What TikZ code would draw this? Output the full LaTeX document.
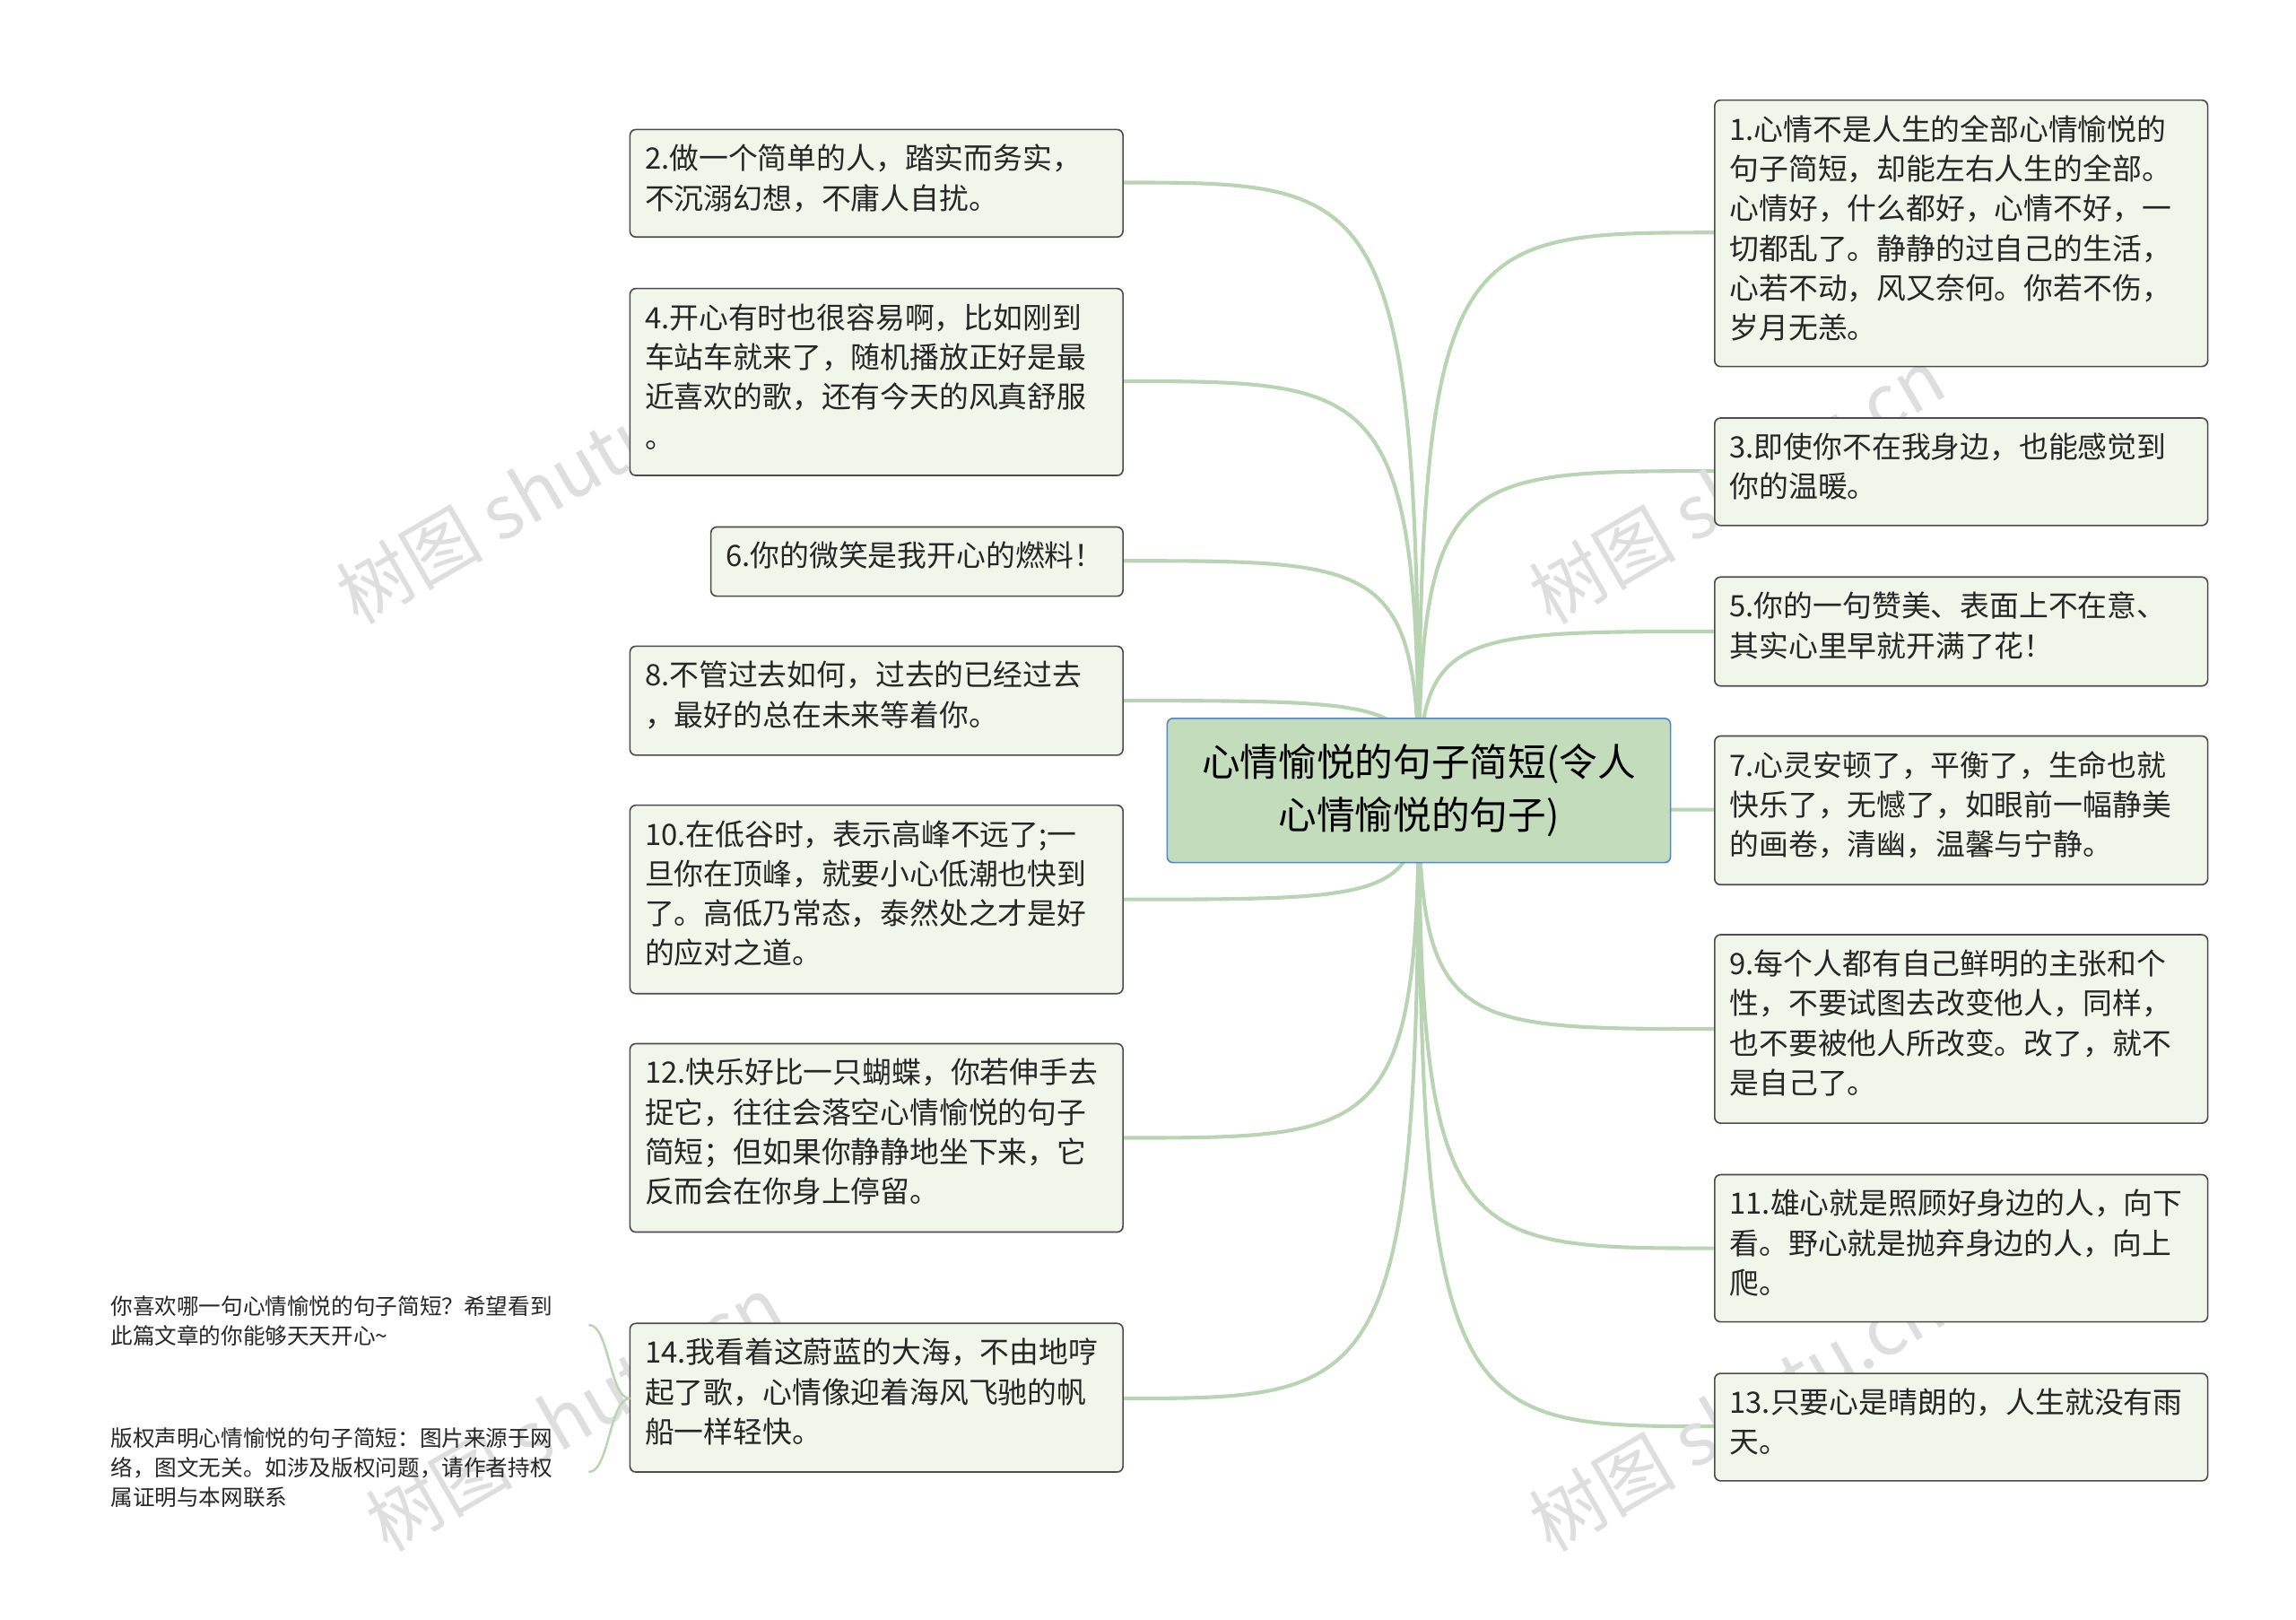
\documentclass[tikz,border=0pt]{standalone}
\usepackage{fontspec}
\setmainfont{Noto Sans CJK SC}
\definecolor{linkc}{HTML}{B8D4B2}
\definecolor{leaff}{HTML}{F0F6E9}
\definecolor{cenf}{HTML}{C3DCBC}
\definecolor{cenb}{HTML}{4F86D9}
\begin{document}
\begin{tikzpicture}[x=1pt,y=-1pt,
  leaf/.style={draw=black!70,fill=leaff,rounded corners=4pt,line width=1pt,inner sep=0pt},
  txt/.style={anchor=north west,align=left,font=\fontsize{20}{27}\selectfont,text=black!85,inner sep=0pt},
  small/.style={anchor=north west,align=left,font=\fontsize{15}{20}\selectfont,text=black!85,inner sep=0pt},
  link/.style={draw=linkc,line width=2.5pt}]
\useasboundingbox (0,0) rectangle (1560,1100);
\fill[white] (0,0) rectangle (1560,1100);
\coordinate (o) at (964,537);
% links first
\foreach \y in {158,320,429,550,699,848,969}
  \draw[link] (o) .. controls (964,\y) and (990,\y) .. (1166,\y);
\foreach \y in {124,259,381,476,611,773,950}
  \draw[link] (o) .. controls (964,\y) and (938,\y) .. (762,\y);
% watermarks
\foreach \p in {(370,330),(1180,330),(390,960),(1180,960)}
  \node[rotate=30,text=black!13,font=\fontsize{50}{50}\selectfont] at \p {树图 shutu.cn};
% center
\node[draw=cenb,fill=cenf,rounded corners=4pt,line width=1pt,minimum width=342,minimum height=98,align=center,font=\fontsize{26}{36}\selectfont] (c) at (964,537) {心情愉悦的句子简短(令人\\心情愉悦的句子)};
% right boxes
\newcommand\rb[4]{\draw[leaf] (1165,#2) rectangle (1500,#3); \node[txt] (#1) at (1175,#2+10) {#4};}
\rb{r1}{68}{249}{1.心情不是人生的全部心情愉悦的\\句子简短，却能左右人生的全部。\\心情好，什么都好，心情不好，一\\切都乱了。静静的过自己的生活，\\心若不动，风又奈何。你若不伤，\\岁月无恙。}
\rb{r3}{284}{357}{3.即使你不在我身边，也能感觉到\\你的温暖。}
\rb{r5}{392}{466}{5.你的一句赞美、表面上不在意、\\其实心里早就开满了花！}
\rb{r7}{500}{601}{7.心灵安顿了，平衡了，生命也就\\快乐了，无憾了，如眼前一幅静美\\的画卷，清幽，温馨与宁静。}
\rb{r9}{635}{763}{9.每个人都有自己鲜明的主张和个\\性，不要试图去改变他人，同样，\\也不要被他人所改变。改了，就不\\是自己了。}
\rb{r11}{798}{898}{11.雄心就是照顾好身边的人，向下\\看。野心就是抛弃身边的人，向上\\爬。}
\rb{r13}{933}{1006}{13.只要心是晴朗的，人生就没有雨\\天。}
% left boxes
\newcommand\lb[5]{\draw[leaf] (#2,#3) rectangle (763,#4); \node[txt] (#1) at (#2+10,#3+10) {#5};}
\lb{l2}{428}{88}{161}{2.做一个简单的人，踏实而务实，\\不沉溺幻想，不庸人自扰。}
\lb{l4}{428}{196}{323}{4.开心有时也很容易啊，比如刚到\\车站车就来了，随机播放正好是最\\近喜欢的歌，还有今天的风真舒服\\。}
\lb{l6}{483}{358}{405}{6.你的微笑是我开心的燃料！}
\lb{l8}{428}{439}{513}{8.不管过去如何，过去的已经过去\\，最好的总在未来等着你。}
\lb{l10}{428}{547}{675}{10.在低谷时，表示高峰不远了;一\\旦你在顶峰，就要小心低潮也快到\\了。高低乃常态，泰然处之才是好\\的应对之道。}
\lb{l12}{428}{709}{837}{12.快乐好比一只蝴蝶，你若伸手去\\捉它，往往会落空心情愉悦的句子\\简短；但如果你静静地坐下来，它\\反而会在你身上停留。}
\lb{l14}{428}{899}{1000}{14.我看着这蔚蓝的大海，不由地哼\\起了歌，心情像迎着海风飞驰的帆\\船一样轻快。}
% bottom-left notes
\node[small] (n1) at (75,880) {你喜欢哪一句心情愉悦的句子简短？希望看到\\此篇文章的你能够天天开心\textasciitilde};
\node[small] (n2) at (75,970) {版权声明心情愉悦的句子简短：图片来源于网\\络，图文无关。如涉及版权问题，请作者持权\\属证明与本网联系};
\coordinate (s) at (428,950);
\draw[link,line width=1.5pt] (s) .. controls (414,950) and (414,900) .. (400,900);
\draw[link,line width=1.5pt] (s) .. controls (414,950) and (414,1000) .. (400,1000);
\end{tikzpicture}
\end{document}
